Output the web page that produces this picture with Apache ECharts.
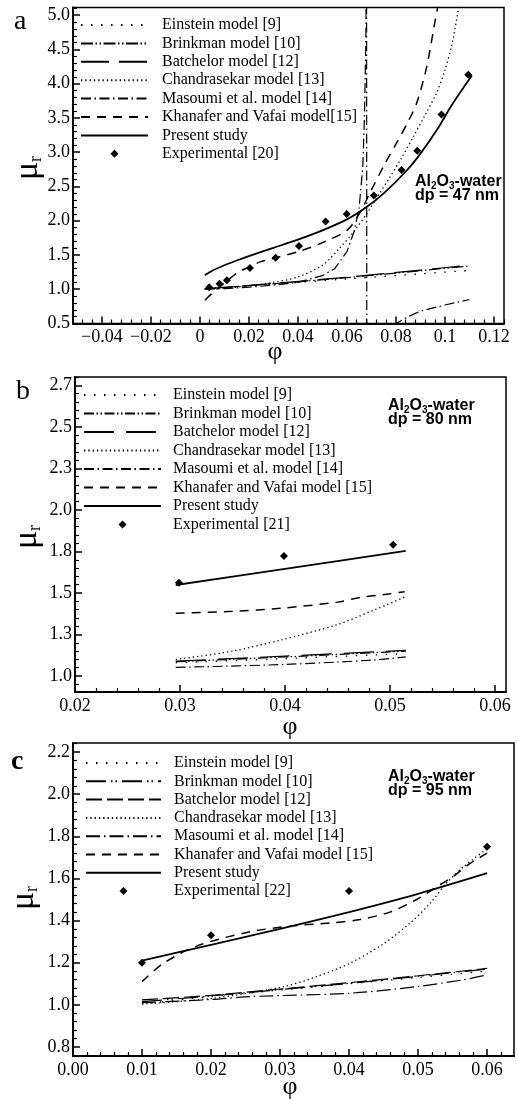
<!DOCTYPE html>
<html><head><meta charset="utf-8">
<script src="https://cdn.jsdelivr.net/npm/echarts@6/dist/echarts.min.js"></script>
<style>html,body{margin:0;padding:0;background:#fff}#c{width:518px;height:1099px}</style>
</head><body><div id="c"></div>
<script>
// ================= DATA =================
// ---- Panel a (Al2O3-water, dp = 47 nm) ----
const aEinstein = [[0.002,1.005],[0.03,1.075],[0.06,1.15],[0.09,1.225],[0.11,1.275]];
const aBrinkman = [[0.002,1.005],[0.03,1.08],[0.06,1.17],[0.09,1.27],[0.11,1.34]];
const aBatchelor = [[0.002,1.005],[0.03,1.085],[0.06,1.175],[0.09,1.28],[0.11,1.35]];
const aChandra = [[0.002,1.0],[0.01,1.02],[0.02,1.05],[0.03,1.1],[0.04,1.18],[0.05,1.35],[0.057,1.6],[0.063,1.85],[0.068,2.1],[0.073,2.38],[0.0776,2.64],[0.082,2.9],[0.087,3.22],[0.092,3.55],[0.0966,3.87],[0.1,4.2],[0.103,4.6],[0.106,5.2]];
const aMasoumi = [[0.002,1.0],[0.01,1.01],[0.02,1.03],[0.03,1.06],[0.04,1.1],[0.05,1.2],[0.055,1.3],[0.06,1.55],[0.063,1.85],[0.065,2.2],[0.0665,2.8],[0.0672,3.6],[0.0677,4.6],[0.068,6.0],[0.0682,-5.0],[0.07,-2.0],[0.075,0.1],[0.08,0.5],[0.085,0.6],[0.09,0.68],[0.1,0.77],[0.11,0.85]];
const aKhanafer = [[0.002,0.84],[0.005,0.94],[0.01,1.09],[0.016,1.26],[0.02,1.32],[0.0245,1.40],[0.03,1.45],[0.041,1.56],[0.05,1.68],[0.06,1.86],[0.065,2.1],[0.07,2.45],[0.075,2.8],[0.08,3.12],[0.085,3.45],[0.0884,3.71],[0.0925,4.24],[0.096,4.92],[0.0975,5.2]];
const aPresent = [[0.002,1.205],[0.005,1.27],[0.01,1.35],[0.015,1.42],[0.02,1.485],[0.03,1.605],[0.04,1.725],[0.05,1.86],[0.06,2.02],[0.068,2.2],[0.075,2.4],[0.0843,2.73],[0.09,2.98],[0.0966,3.32],[0.103,3.7],[0.111,4.12]];
const aExp = [[0.0038,1.03],[0.008,1.08],[0.011,1.13],[0.0204,1.31],[0.0309,1.46],[0.0404,1.63],[0.0513,1.99],[0.0599,2.10],[0.071,2.37],[0.0823,2.74],[0.0887,3.02],[0.0986,3.55],[0.1095,4.13]];
const aXTicks = [-0.04,-0.02,0,0.02,0.04,0.06,0.08,0.1,0.12];
const aXLabels = ['\u22120.04','\u22120.02','0','0.02','0.04','0.06','0.08','0.1','0.12'];
const aYTicks = [0.5,1,1.5,2,2.5,3,3.5,4,4.5,5];
const aYLabels = ['0.5','1.0','1.5','2.0','2.5','3.0','3.5','4.0','4.5','5.0'];

// ---- Panel b (dp = 80 nm) ----
const bEinstein = [[0.0296,1.08],[0.04,1.105],[0.0515,1.135]];
const bBrinkman = [[0.0296,1.086],[0.04,1.115],[0.0515,1.15]];
const bBatchelor = [[0.0296,1.09],[0.04,1.12],[0.0515,1.155]];
const bChandra = [[0.0296,1.10],[0.035,1.15],[0.0396,1.217],[0.045,1.31],[0.0485,1.398],[0.0515,1.478]];
const bMasoumi = [[0.0296,1.052],[0.04,1.07],[0.0483,1.096],[0.0515,1.115]];
const bKhanafer = [[0.0296,1.378],[0.035,1.39],[0.0396,1.408],[0.045,1.445],[0.0472,1.474],[0.05,1.495],[0.0514,1.508]];
const bPresent = [[0.0296,1.548],[0.04,1.645],[0.0515,1.753]];
const bExp = [[0.0299,1.562],[0.0399,1.723],[0.0503,1.79]];
const bXTicks = [0.02,0.03,0.04,0.05,0.06];
const bXLabels = ['0.02','0.03','0.04','0.05','0.06'];
const bYTicks = [1.0,1.25,1.5,1.75,2.0,2.25,2.5,2.75];
const bYLabels = ['1.0','1.3','1.5','1.8','2.0','2.3','2.5','2.7'];

// ---- Panel c (dp = 95 nm) ----
const cEinstein = [[0.01,1.004],[0.02,1.04],[0.03,1.07],[0.04,1.1],[0.05,1.13],[0.06,1.16]];
const cBrinkman = [[0.01,1.015],[0.02,1.042],[0.03,1.072],[0.04,1.102],[0.05,1.135],[0.06,1.17]];
const cBatchelor = [[0.01,1.023],[0.02,1.045],[0.03,1.075],[0.04,1.105],[0.05,1.138],[0.06,1.173]];
const cChandra = [[0.01,1.004],[0.02,1.03],[0.0305,1.086],[0.0353,1.134],[0.0401,1.197],[0.045,1.29],[0.0488,1.387],[0.0517,1.48],[0.0541,1.577],[0.0566,1.656],[0.06,1.74]];
const cMasoumi = [[0.01,1.01],[0.02,1.025],[0.0257,1.039],[0.0401,1.055],[0.0497,1.086],[0.0564,1.118],[0.06,1.142]];
const cKhanafer = [[0.01,1.11],[0.0131,1.197],[0.018,1.28],[0.0257,1.347],[0.0319,1.375],[0.0377,1.39],[0.0416,1.405],[0.0459,1.44],[0.0498,1.50],[0.0527,1.56],[0.0551,1.61],[0.0575,1.67],[0.06,1.72]];
const cPresent = [[0.01,1.21],[0.02,1.285],[0.03,1.36],[0.04,1.44],[0.05,1.527],[0.06,1.625]];
const cExp = [[0.01,1.20],[0.02,1.33],[0.04,1.54],[0.06,1.75]];
const cXTicks = [0,0.01,0.02,0.03,0.04,0.05,0.06];
const cXLabels = ['0.00','0.01','0.02','0.03','0.04','0.05','0.06'];
const cYTicks = [0.8,1.0,1.2,1.4,1.6,1.8,2.0,2.2];
const cYLabels = ['0.8','1.0','1.2','1.4','1.6','1.8','2.0','2.2'];

// ================= LAYOUT / STYLE =================
const SERIF = '"Liberation Serif","Times New Roman",serif';
const SANS = '"Liberation Sans",Arial,sans-serif';

const panels = [
  { grid:{left:73, top:7.5, width:431, height:316},
    x:{min:-0.0518, max:0.1241, ticks:aXTicks, labels:aXLabels, minor:0.004},
    y:{min:0.5, max:5.113, ticks:aYTicks, labels:aYLabels, minor:0.1},
    legend:{left:80, top:17, itemWidth:67, pad:9, gap:2.4},
    series:[
      ['Einstein model [9]', aEinstein, [1.5,8.5], 1.3],
      ['Brinkman model [10]', aBrinkman, [12,2.5,1.5,2.5,1.5,2.5], 1.2],
      ['Batchelor model [12]', aBatchelor, [28,10], 1.2],
      ['Chandrasekar model [13]', aChandra, [1.3,3], 1.3],
      ['Masoumi et al. model [14]', aMasoumi, [10,3.5,1.5,3.5], 1.2],
      ['Khanafer and Vafai model[15]', aKhanafer, [9,7], 1.5],
      ['Present study', aPresent, 'solid', 1.8],
      ['Experimental [20]', aExp, 'exp', 0]
    ],
    note:{x:415, y:174, d:'47'}
  },
  { grid:{left:75, top:377, width:431, height:315},
    x:{min:0.02, max:0.06105, ticks:bXTicks, labels:bXLabels, minor:0.002},
    y:{min:0.904, max:2.80, ticks:bYTicks, labels:bYLabels, minor:0.05},
    legend:{left:83, top:387, itemWidth:77, pad:7, gap:2.5},
    series:[
      ['Einstein model [9]', bEinstein, [1.5,8.5], 1.3],
      ['Brinkman model [10]', bBrinkman, [10,2.5,1.5,2.5,1.5,2.5], 1.2],
      ['Batchelor model [12]', bBatchelor, [30,12], 1.2],
      ['Chandrasekar model [13]', bChandra, [1.3,3], 1.3],
      ['Masoumi et al. model [14]', bMasoumi, [10,3.5,1.5,3.5], 1.2],
      ['Khanafer and Vafai model [15]', bKhanafer, [9,7], 1.5],
      ['Present study', bPresent, 'solid', 1.8],
      ['Experimental [21]', bExp, 'exp', 0]
    ],
    note:{x:388, y:398, d:'80'}
  },
  { grid:{left:73, top:743, width:441, height:313},
    x:{min:0, max:0.0639, ticks:cXTicks, labels:cXLabels, minor:0.002},
    y:{min:0.757, max:2.243, ticks:cYTicks, labels:cYLabels, minor:0.04},
    legend:{left:85, top:755, itemWidth:75, pad:8, gap:2.3},
    series:[
      ['Einstein model [9]', cEinstein, [1.5,8.5], 1.3],
      ['Brinkman model [10]', cBrinkman, [20,5,1.5,3,1.5,5], 1.2],
      ['Batchelor model [12]', cBatchelor, [16,5], 1.2],
      ['Chandrasekar model [13]', cChandra, [1.3,3], 1.3],
      ['Masoumi et al. model [14]', cMasoumi, [14,4,1.5,4], 1.2],
      ['Khanafer and Vafai model [15]', cKhanafer, [9,7], 1.5],
      ['Present study', cPresent, 'solid', 1.8],
      ['Experimental [22]', cExp, 'exp', 0]
    ],
    note:{x:388, y:769, d:'95'}
  }
];

function minorVals(min, max, step, majors) {
  const out = [];
  for (let k = Math.ceil(min / step - 1e-9); k * step <= max + 1e-12; k++) {
    const v = +(k * step).toFixed(6);
    if (!majors.some(m => Math.abs(m - v) < step / 10)) out.push(v);
  }
  return out;
}
function labelFor(ticks, labels) {
  return v => { let bi = 0; ticks.forEach((t, i) => { if (Math.abs(t - v) < Math.abs(ticks[bi] - v)) bi = i; }); return labels[bi]; };
}
const mctx = document.createElement('canvas').getContext('2d');
function tw(t, font) { mctx.font = font; return mctx.measureText(t).width; }

const option = { backgroundColor:'#fff', animation:false, grid:[], xAxis:[], yAxis:[], series:[], legend:[], graphic:[] };

panels.forEach((p, pi) => {
  const g = p.grid;
  option.grid.push({ left:g.left, top:g.top, width:g.width, height:g.height, show:true, borderColor:'#000', borderWidth:1.5, backgroundColor:'transparent', containLabel:false });
  const lbl = { fontFamily:SERIF, fontSize:18, color:'#000' };
  option.xAxis.push({ gridIndex:pi, type:'value', position:'bottom', min:p.x.min, max:p.x.max,
    axisLine:{show:true, onZero:false, lineStyle:{color:'#000', width:2}},
    axisTick:{show:true, inside:true, length:7, customValues:p.x.ticks, lineStyle:{color:'#000', width:1.5}},
    axisLabel:Object.assign({show:true, margin:5, customValues:p.x.ticks, formatter:labelFor(p.x.ticks, p.x.labels)}, lbl),
    splitLine:{show:false} });
  option.xAxis.push({ gridIndex:pi, type:'value', position:'bottom', min:p.x.min, max:p.x.max,
    axisLine:{show:false, onZero:false},
    axisTick:{show:true, inside:true, length:4, customValues:minorVals(p.x.min, p.x.max, p.x.minor, p.x.ticks), lineStyle:{color:'#000', width:1.2}},
    axisLabel:{show:false}, splitLine:{show:false} });
  option.yAxis.push({ gridIndex:pi, type:'value', position:'left', min:p.y.min, max:p.y.max,
    axisLine:{show:true, onZero:false, lineStyle:{color:'#000', width:2}},
    axisTick:{show:true, inside:true, length:7, customValues:p.y.ticks, lineStyle:{color:'#000', width:1.5}},
    axisLabel:Object.assign({show:true, margin:3, customValues:p.y.ticks, formatter:labelFor(p.y.ticks, p.y.labels)}, lbl),
    splitLine:{show:false} });
  option.yAxis.push({ gridIndex:pi, type:'value', position:'left', min:p.y.min, max:p.y.max,
    axisLine:{show:false, onZero:false},
    axisTick:{show:true, inside:true, length:4, customValues:minorVals(p.y.min, p.y.max, p.y.minor, p.y.ticks), lineStyle:{color:'#000', width:1.2}},
    axisLabel:{show:false}, splitLine:{show:false} });

  const names = [];
  p.series.forEach(([name, data, dash, w]) => {
    const id = 'p' + pi + ':' + name;
    if (dash === 'exp') {
      names.push({ name:id });
      option.series.push({ name:id, type:'line', xAxisIndex:2*pi, yAxisIndex:2*pi, data:data,
        symbol:'diamond', symbolSize:8, showSymbol:true, showAllSymbol:true,
        lineStyle:{width:0, opacity:0}, itemStyle:{color:'#000'}, z:5 });
    } else {
      names.push({ name:id, itemStyle:{opacity:0} });
      const isM = name.indexOf('Masoumi') === 0 && pi === 0;
      option.series.push({ name:id, type:'line', xAxisIndex:2*pi, yAxisIndex:2*pi, data:data,
        symbol:'none', smooth: isM ? false : 0.3, clip:true,
        itemStyle:{color:'#000', opacity:0},
        lineStyle:{color:'#000', width:w, type:dash, cap:'butt'}, z:3 });
    }
  });
  option.legend.push({ orient:'vertical', left:p.legend.left, top:p.legend.top, data:names,
    itemWidth:p.legend.itemWidth, itemHeight:10, itemGap:p.legend.gap, selectedMode:false, padding:0,
    formatter: n => n.slice(n.indexOf(':') + 1),
    textStyle:{fontFamily:SERIF, fontSize:16, color:'#000', lineHeight:16, padding:[0,0,0,p.legend.pad]} });

  // annotation with subscripts (positions measured from the text itself)
  const fMain = 'bold 16px ' + SANS, fSub = 'bold 10px ' + SANS;
  const parts = [['Al', 0], ['2', 1], ['O', 0], ['3', 1], ['-water', 0]];
  let cx = p.note.x;
  parts.forEach(([t, sub]) => {
    option.graphic.push({ type:'text', x:cx, y:p.note.y + (sub ? 7 : 0), z:10,
      style:{ text:t, fontFamily:SANS, fontWeight:'bold', fontSize: sub ? 10 : 16, fill:'#000', verticalAlign:'top' } });
    cx += tw(t, sub ? fSub : fMain);
  });
  option.graphic.push({ type:'text', x:p.note.x, y:p.note.y + 14, z:10,
    style:{ text:'dp = ' + p.note.d + ' nm', fontFamily:SANS, fontWeight:'bold', fontSize:16, fill:'#000', verticalAlign:'top' } });
});

// panel letters and axis titles
const letters = [['a', 14, 8, 'normal'], ['b', 16, 378, 'normal'], ['c', 11, 748, 'bold']];
letters.forEach(([t, x, y, fw]) => option.graphic.push({ type:'text', left:x, top:y, style:{text:t, fontFamily:SERIF, fontSize:28, fontWeight:fw, fill:'#000'} }));
const mus = [[28,168],[27,537],[24,898]];
mus.forEach(([x, y]) => option.graphic.push({ type:'text', x:x, y:y, rotation:Math.PI/2,
  style:{ text:'{m|\u03bc}{r|r}', align:'center', verticalAlign:'middle',
    rich:{ m:{fontFamily:SERIF, fontSize:34, fill:'#000', verticalAlign:'middle'}, r:{fontFamily:SERIF, fontSize:18, fill:'#000', verticalAlign:'bottom', padding:[12,0,0,0]} } } }));
const phis = [[275,352],[290,727],[290,1087]];
phis.forEach(([x, y]) => option.graphic.push({ type:'text', x:x, y:y,
  style:{ text:'\u03c6', fontFamily:SERIF, fontSize:26, fill:'#000', align:'center', verticalAlign:'middle' } }));

const chart = echarts.init(document.getElementById('c'), null, {renderer:'canvas'});
chart.setOption(option);
</script>
</body></html>
